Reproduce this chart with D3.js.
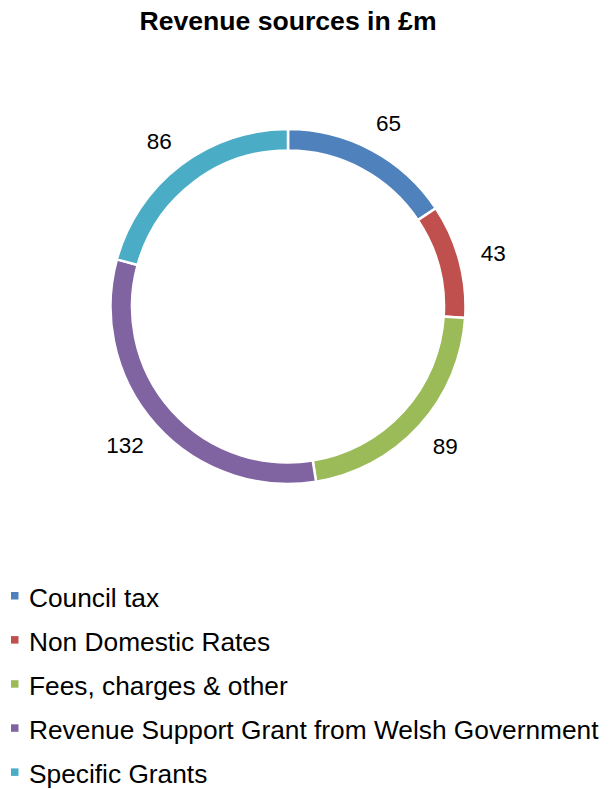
<!DOCTYPE html>
<html>
<head>
<meta charset="utf-8">
<script src="https://cdn.jsdelivr.net/npm/d3@7"></script>
<style>
  body { margin: 0; background: #fff; }
  svg text { font-family: Arial, "Liberation Sans", sans-serif; fill: #000; }
</style>
</head>
<body>
<svg id="chart" width="610" height="789"></svg>
<script>
// data
let categories = ["Council tax", "Non Domestic Rates", "Fees, charges & other",
                  "Revenue Support Grant from Welsh Government", "Specific Grants"]
let values = [65, 43, 89, 132, 86]
let colors = ["#4F81BD", "#C0504D", "#9BBB59", "#8064A2", "#4BACC6"]
let title = "Revenue sources in £m"

let svg = d3.select("#chart")
let cx = 288, cy = 306.5
let outerR = 177.5, innerR = 156

// title
svg.append("text")
    .attr("x", cx)
    .attr("y", 30)
    .attr("text-anchor", "middle")
    .style("font-weight", "bold")
    .style("font-size", "26.6px")
    .text(title)

let pie = d3.pie().sort(null).value(function (d) { return d })
let arc = d3.arc().innerRadius(innerR).outerRadius(outerR)
let arcs = pie(values)

let g = svg.append("g").attr("transform", `translate(${cx},${cy})`)

g.selectAll(".slice")
    .data(arcs)
    .enter()
    .append("path")
    .attr("class", "slice")
    .attr("d", arc)
    .attr("fill", function (d, i) { return colors[i] })
    .attr("stroke", "#fff")
    .attr("stroke-width", 2.5)

// data labels outside the ring
let labelR = 200
g.selectAll(".dlabel")
    .data(arcs)
    .enter()
    .append("text")
    .attr("class", "dlabel")
    .style("font-size", "22.5px")
    .each(function (d) {
        let a = (d.startAngle + d.endAngle) / 2
        let s = Math.sin(a), c = Math.cos(a)
        let t = d3.select(this).text(d.value)
        let w = this.getComputedTextLength(), h = 16
        let x = labelR * s + (w / 2) * s
        let y = -labelR * c - (h / 2) * c
        t.attr("x", x).attr("y", y + h / 2).attr("text-anchor", "middle")
    })

// legend
let legend = svg.append("g").attr("transform", "translate(11,0)")
categories.forEach(function (d, i) {
    let row = legend.append("g").attr("transform", `translate(0,${606.7 + i * 44.1})`)
    row.append("rect")
        .attr("x", 0).attr("y", -14.7)
        .attr("width", 7.5).attr("height", 7.5)
        .attr("fill", colors[i])
    row.append("text")
        .attr("x", 18)
        .attr("y", 0)
        .style("font-size", "26.3px")
        .text(d)
})
</script>
</body>
</html>
